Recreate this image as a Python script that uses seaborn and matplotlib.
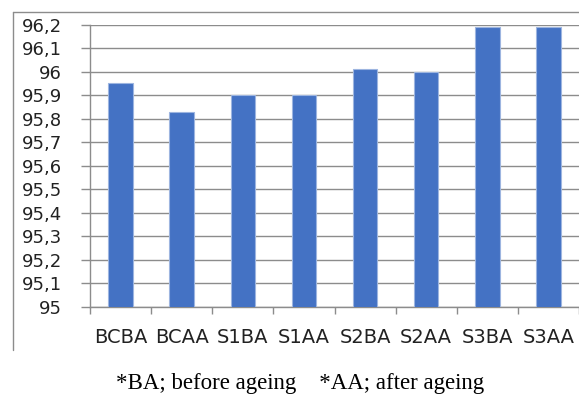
import matplotlib
matplotlib.use("Agg")
import matplotlib.pyplot as plt
from matplotlib.lines import Line2D
from matplotlib.ticker import FuncFormatter, MultipleLocator, FixedLocator
import numpy as np
import pandas as pd
import seaborn as sns

samples = ["BCBA", "BCAA", "S1BA", "S1AA", "S2BA", "S2AA", "S3BA", "S3AA"]
values = [95.95, 95.83, 95.90, 95.90, 96.01, 96.00, 96.19, 96.19]
footnote = "*BA; before ageing    *AA; after ageing"

sns.set_theme(style="white")
plt.rcParams["font.family"] = ["DejaVu Sans"]

df = pd.DataFrame({"sample": samples, "value": values})

fig = plt.figure(figsize=(5.79, 3.94), dpi=100)
ax = fig.add_axes([90 / 579, 1 - 307 / 394, 1 - 90 / 579, (307 - 24.5) / 394])

sns.barplot(data=df, x="sample", y="value", color="#4472C4", saturation=1,
            width=0.4, edgecolor="#9DB5E0", linewidth=0.8, ax=ax, zorder=3)

ax.set_ylim(95, 96.2)
ax.set_xlim(-0.5, len(samples) - 0.5)
ax.yaxis.set_major_locator(MultipleLocator(0.1))
ax.yaxis.set_major_formatter(FuncFormatter(lambda v, p: f"{v:.1f}".rstrip("0").rstrip(".").replace(".", ",")))
ax.yaxis.grid(True, color="#8c8c8c", linewidth=1.0, zorder=0)
ax.set_axisbelow(True)

for side in ["top", "right"]:
    ax.spines[side].set_visible(False)
for side in ["left", "bottom"]:
    ax.spines[side].set_color("#8c8c8c")
    ax.spines[side].set_linewidth(1.0)

# x ticks at category boundaries, labels at centers
ax.xaxis.set_major_locator(FixedLocator(np.arange(len(samples) + 1) - 0.5))
ax.xaxis.set_minor_locator(FixedLocator(np.arange(len(samples))))
ax.set_xticklabels([])
ax.set_xticklabels(samples, minor=True)
ax.tick_params(axis="x", which="major", bottom=True, length=5, width=1, color="#8c8c8c")
ax.tick_params(axis="x", which="minor", bottom=False, length=0, pad=15, labelsize=14, labelcolor="#222222")
ax.tick_params(axis="y", left=True, length=6.5, width=1, color="#8c8c8c", pad=13.5, labelsize=13, labelcolor="#222222")
ax.set_xlabel("")
ax.set_ylabel("")

# outer chart frame (left and top edges)
fig.add_artist(Line2D([13 / 579, 13 / 579], [1 - 12 / 394, 1 - 350 / 394], color="#8c8c8c", linewidth=1.0))
fig.add_artist(Line2D([13 / 579, 1.0], [1 - 12 / 394, 1 - 12 / 394], color="#8c8c8c", linewidth=1.0))

fig.text(300 / 579, 1 - 384 / 394, footnote, ha="center", va="center",
         family=["Liberation Serif"], fontsize=16.5, color="#000000")

fig.savefig("out.png", dpi=100)
